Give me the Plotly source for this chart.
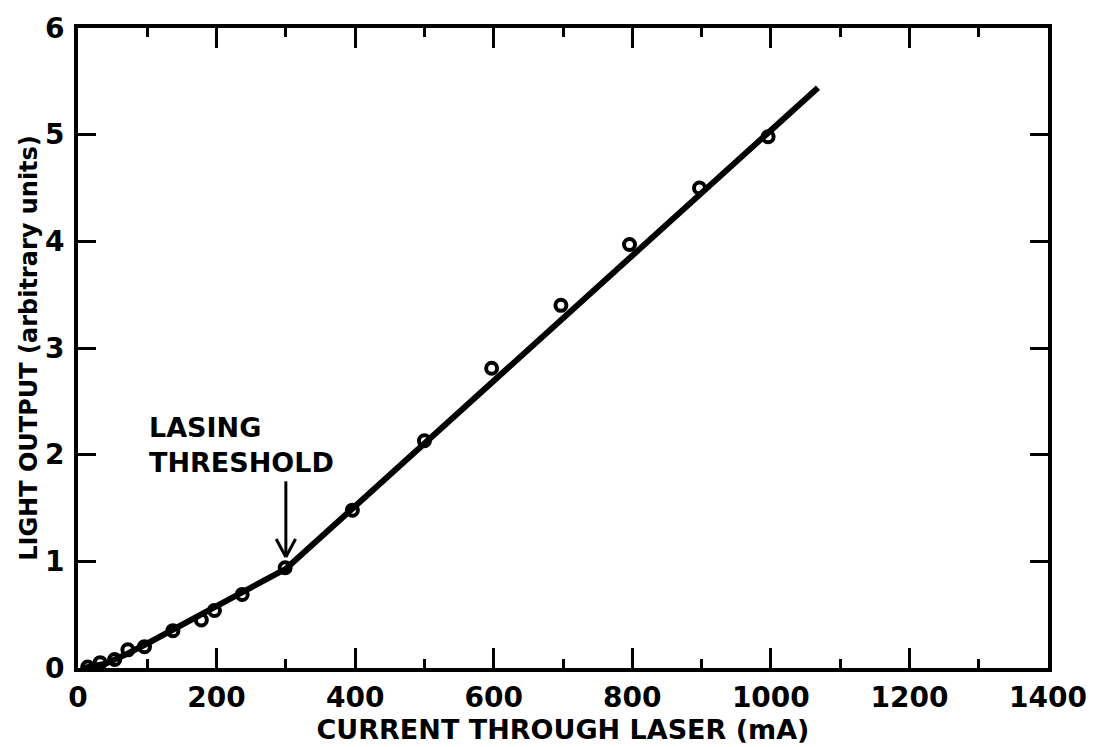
import plotly.graph_objects as go

# measured data points (open circles)
current_ma = [14, 32, 53, 72, 96, 137, 178, 197, 237, 299, 396, 500, 597, 697, 796, 897, 996]
light_out = [0.01, 0.05, 0.08, 0.17, 0.20, 0.35, 0.45, 0.54, 0.69, 0.94, 1.48, 2.13, 2.81, 3.40, 3.97, 4.50, 4.98]

# fitted curve (solid line)
fit_x = [8, 40, 70, 100, 200, 300, 1068]
fit_y = [0.0, 0.04, 0.13, 0.23, 0.58, 0.93, 5.44]

# annotation
threshold_x = 300
arrow_top = 1.75
arrow_tip = 1.04

x_ticks = [0, 200, 400, 600, 800, 1000, 1200, 1400]
x_ticktext = ["0", "200", "400", "600", "800", "1000", "1200", "1400"]
y_ticks = [0, 1, 2, 3, 4, 5, 6]

FONT = "DejaVu Sans"

fig = go.Figure()
fig.add_trace(go.Scatter(x=fit_x, y=fit_y, mode="lines",
                         line=dict(color="black", width=6), showlegend=False))
fig.add_trace(go.Scatter(x=current_ma, y=light_out, mode="markers",
                         marker=dict(symbol="circle-open", size=11, color="black",
                                     line=dict(width=4, color="black")),
                         showlegend=False))

# arrow shaft
fig.add_shape(type="line", x0=threshold_x, x1=threshold_x, y0=arrow_top, y1=arrow_tip,
              line=dict(color="black", width=3))
# arrow head (open V)
hw, hh = 14, 0.17
fig.add_shape(type="line", x0=threshold_x - hw, x1=threshold_x, y0=arrow_tip + hh, y1=arrow_tip,
              line=dict(color="black", width=3))
fig.add_shape(type="line", x0=threshold_x + hw, x1=threshold_x, y0=arrow_tip + hh, y1=arrow_tip,
              line=dict(color="black", width=3))

fig.add_annotation(x=100, y=2.42, xref="x", yref="y", xanchor="left", yanchor="top",
                   text="<b>LASING<br>THRESHOLD</b>", showarrow=False, align="left",
                   font=dict(family=FONT, size=27, color="black"))

axis_common = dict(showline=True, linecolor="black", linewidth=4, mirror="ticks",
                   ticks="inside", tickcolor="black", tickwidth=3, showgrid=False,
                   zeroline=False, tickfont=dict(family=FONT, size=28, color="black"))

fig.update_xaxes(range=[0, 1400], tickvals=x_ticks, ticktext=[f"<b>{t}</b>" for t in x_ticktext],
                 ticklen=20, ticklabelstandoff=1,
                 minor=dict(dtick=100, ticks="inside", ticklen=9, tickwidth=3, tickcolor="black"),
                 title=dict(text="<b>CURRENT THROUGH LASER (mA)</b>", standoff=0,
                            font=dict(family=FONT, size=27, color="black")),
                 **axis_common)
fig.update_yaxes(range=[0, 6], tickvals=y_ticks, ticktext=[f"<b>{t}</b>" for t in y_ticks],
                 ticklen=18, ticklabelstandoff=4,
                 title=dict(text="<b>LIGHT OUTPUT (arbitrary units)</b>", standoff=2,
                            font=dict(family=FONT, size=24, color="black")),
                 **axis_common)

fig.update_layout(width=1099, height=747, margin=dict(l=78, r=44, t=21, b=79),
                  plot_bgcolor="white", paper_bgcolor="white",
                  font=dict(family=FONT, color="black"))

fig.write_html("out.html")
